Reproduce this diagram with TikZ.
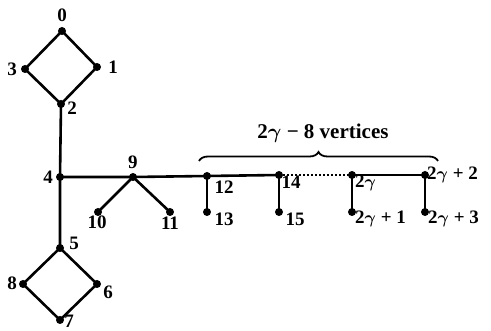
\documentclass[tikz,border=0pt]{standalone}
\usepackage{fontspec}
\setmainfont{Liberation Serif}
\usepackage{amsmath}
\usetikzlibrary{decorations.pathreplacing}
\newcommand{\gam}{\ensuremath{\boldsymbol{\gamma}}}
\begin{document}
\begin{tikzpicture}[x=1pt,y=-1pt,
  vtx/.style={circle,fill=black,inner sep=0pt,minimum size=8pt},
  lbl/.style={inner sep=0pt,font=\fontsize{19}{21}\selectfont\bfseries},
  edge/.style={line width=2.6pt}]
\useasboundingbox (0,0) rectangle (491,331);
% vertices
\node[vtx] (v0) at (62,31) {};
\node[vtx] (v1) at (97,67) {};
\node[vtx] (v3) at (25,69) {};
\node[vtx] (v2) at (61,104) {};
\node[vtx] (v4) at (60,177) {};
\node[vtx] (v9) at (133,177) {};
\node[vtx] (v10) at (98,212) {};
\node[vtx] (v11) at (170,212) {};
\node[vtx] (v12) at (207,176) {};
\node[vtx] (v13) at (207,212) {};
\node[vtx] (v14) at (279,175) {};
\node[vtx] (v15) at (279,212) {};
\node[vtx] (vg) at (352,175) {};
\node[vtx] (vg1) at (352,212) {};
\node[vtx] (vg2) at (425,175) {};
\node[vtx] (vg3) at (425,212) {};
\node[vtx] (v5) at (60,248) {};
\node[vtx] (v8) at (23,284) {};
\node[vtx] (v6) at (97,284) {};
\node[vtx] (v7) at (60,320) {};
% edges
\draw[edge] (v0.center) -- (v1.center) -- (v2.center) -- (v3.center) -- cycle;
\draw[edge] (v2.center) -- (v4.center) -- (v5.center);
\draw[edge] (v5.center) -- (v6.center) -- (v7.center) -- (v8.center) -- cycle;
\draw[edge] (v4.center) -- (v9.center) -- (v12.center) -- (v14.center);
\draw[edge] (v9.center) -- (v10.center);
\draw[edge] (v9.center) -- (v11.center);
\draw[edge] (v12.center) -- (v13.center);
\draw[edge] (v14.center) -- (v15.center);
\draw[line width=2pt,dotted] (v14.center) -- (vg.center);
\draw[edge] (vg.center) -- (vg2.center);
\draw[edge] (vg.center) -- (vg1.center);
\draw[edge] (vg2.center) -- (vg3.center);
% brace
\coordinate (bl) at (199,161);
\coordinate (br) at (438,161);
\draw[line width=1.8pt,decorate,decoration={brace,amplitude=9pt}] (bl) -- (br);
\node[lbl,font=\fontsize{21}{23}\selectfont\bfseries] (bt) at (323,133) {2\gam\ − 8 vertices};
% labels
\node[lbl] (l0) at (62,15) {0};
\node[lbl] (l1) at (113,67) {1};
\node[lbl] (l3) at (12,69) {3};
\node[lbl] (l2) at (72,108) {2};
\node[lbl] (l4) at (48,177) {4};
\node[lbl] (l9) at (133,162) {9};
\node[lbl] (l10) at (97,222) {10};
\node[lbl] (l11) at (170,223) {11};
\node[lbl] (l12) at (224,187) {12};
\node[lbl] (l13) at (224,219) {13};
\node[lbl] (l14) at (291,182) {14};
\node[lbl] (l15) at (295,219) {15};
\node[lbl,anchor=west] (lg) at (355,183) {2\gam};
\node[lbl,anchor=west] (lg1) at (355,219) {2\gam\ + 1};
\node[lbl,anchor=west] (lg2) at (427,175) {2\gam\ + 2};
\node[lbl,anchor=west] (lg3) at (428,219) {2\gam\ + 3};
\node[lbl] (l5) at (74,243) {5};
\node[lbl] (l8) at (12,283) {8};
\node[lbl] (l6) at (108,292) {6};
\node[lbl] (l7) at (69,321) {7};
\end{tikzpicture}
\end{document}
